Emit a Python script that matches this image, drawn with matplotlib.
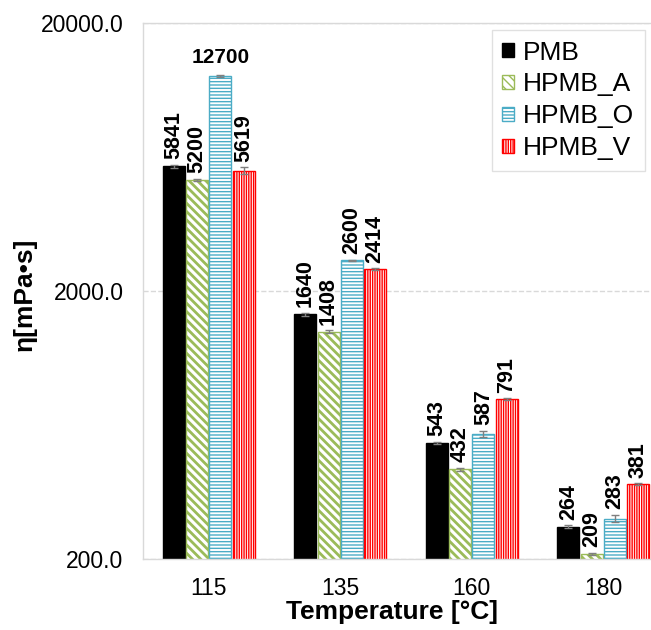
import numpy as np
import matplotlib
matplotlib.use('Agg')
import matplotlib.pyplot as plt
from matplotlib.ticker import FixedLocator, NullLocator

plt.rcParams['font.family'] = ['Liberation Sans', 'DejaVu Sans']

# data
temps = ['115', '135', '160', '180']
series = ['PMB', 'HPMB_A', 'HPMB_O', 'HPMB_V']
pmb = [5841, 1640, 543, 264]
hpmb_a = [5200, 1408, 432, 209]
hpmb_o = [12700, 2600, 587, 283]
hpmb_v = [5619, 2414, 791, 381]
err_pmb = [70, 20, 5, 3]
err_a = [50, 18, 5, 2]
err_o = [110, 15, 15, 9]
err_v = [160, 20, 6, 3]

values = [pmb, hpmb_a, hpmb_o, hpmb_v]
errors = [err_pmb, err_a, err_o, err_v]
colors = ['#000000', '#9BBB59', '#4BACC6', '#FF0000']
hatches = [None, '\\\\\\\\', '-----', '|||||||']
hatch_lw = [1.0, 2.0, 1.0, 1.0]

fig = plt.figure(figsize=(6.51, 6.30), dpi=100)
ax = fig.add_axes([143/651, 1-559/630, 526/651, 536/630])

x = np.arange(len(temps))
step = 0.177
width = 0.167
for j in range(4):
    pos = x + (j - 1.5) * step
    if j == 0:
        bars = ax.bar(pos, values[j], width, color=colors[j], edgecolor=colors[j],
                      label=series[j], zorder=2)
    else:
        bars = ax.bar(pos, values[j], width, color='white', edgecolor=colors[j],
                      hatch=hatches[j], linewidth=1.0, label=series[j], zorder=2)
        for b in bars:
            if hasattr(b, 'set_hatch_linewidth'):
                b.set_hatch_linewidth(hatch_lw[j])
    ax.errorbar(pos, values[j], yerr=errors[j], fmt='none', ecolor='#7F7F7F',
                elinewidth=1, capsize=3, capthick=1, zorder=3)
    for k in range(len(temps)):
        top = values[j][k] + errors[j][k]
        if values[j][k] == 12700:
            ax.annotate(str(values[j][k]), (pos[k], top), xytext=(0, 6),
                        textcoords='offset points', ha='center', va='bottom',
                        fontsize=15, fontweight='bold')
        else:
            ax.annotate(str(values[j][k]), (pos[k], top), xytext=(0, 4),
                        textcoords='offset points', ha='center', va='bottom',
                        rotation=90, fontsize=15.5, fontweight='bold')

ax.set_yscale('log')
ax.set_ylim(200, 20000)
ax.set_xlim(-0.5, 3.5)
ax.yaxis.set_major_locator(FixedLocator([200, 2000, 20000]))
ax.yaxis.set_minor_locator(NullLocator())
ax.set_yticklabels(['200.0', '2000.0', '20000.0'])
ax.set_xticks(x)
ax.set_xticklabels(temps)
ax.tick_params(axis='both', length=0, labelsize=16.5)
ax.tick_params(axis='y', pad=14)
ax.tick_params(axis='x', pad=13)
ax.yaxis.grid(True, linestyle='--', color='#D9D9D9', linewidth=1, zorder=0)
ax.set_axisbelow(True)
for s in ['left', 'bottom', 'top', 'right']:
    ax.spines[s].set_color('#D9D9D9')
    ax.spines[s].set_linewidth(1)

ax.set_xlabel('Temperature [°C]', fontsize=19, fontweight='bold')
ax.xaxis.set_label_coords((392-143)/526, (559-600)/536)
ax.set_ylabel('η[mPa•s]', fontsize=19, fontweight='bold')
ax.yaxis.set_label_coords((37-143)/526, (559-294)/536)

leg = ax.legend(loc='upper right', bbox_to_anchor=(645/651, 1-30/630),
                bbox_transform=fig.transFigure, fontsize=19, frameon=True,
                fancybox=False, edgecolor='#D9D9D9', handlelength=0.45,
                handleheight=0.45, handletextpad=0.35, labelspacing=0.3,
                borderpad=0.4, borderaxespad=0)
leg.get_frame().set_linewidth(1)

fig.savefig('out.png', dpi=100)
